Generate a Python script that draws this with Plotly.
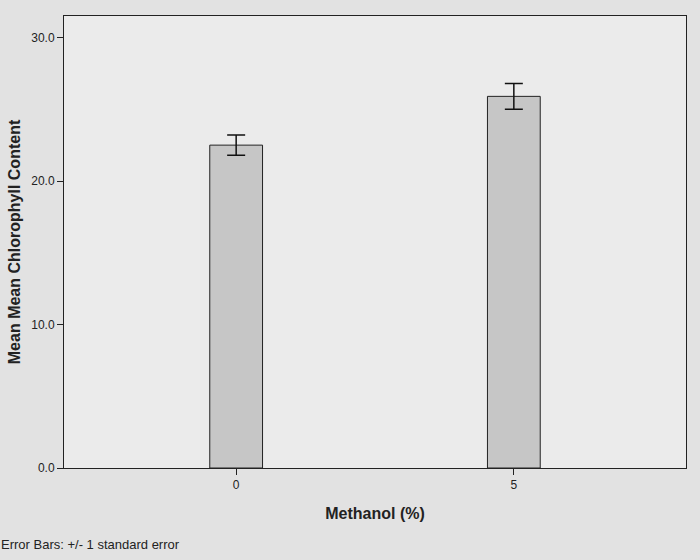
import plotly.graph_objects as go

categories = ["0", "5"]
means = [22.5, 25.9]
std_errors = [0.7, 0.9]
y_ticks = [0, 10, 20, 30]
y_tick_labels = ["0.0", "10.0", "20.0", "30.0"]

fig = go.Figure()
fig.add_trace(go.Bar(
    x=categories, y=means, width=0.19,
    marker=dict(color="#c6c6c6", line=dict(color="#222222", width=1)),
    error_y=dict(type="data", array=std_errors, visible=True, color="#111111", thickness=1.5, width=9),
))

fig.update_layout(
    width=700, height=560,
    margin=dict(l=64, r=14, t=16, b=92),
    paper_bgcolor="#e2e2e2",
    plot_bgcolor="#ebebeb",
    font=dict(family="Liberation Sans, Arial, sans-serif", color="#222222", size=12),
    showlegend=False,
    xaxis=dict(
        type="category", range=[-0.62, 1.62],
        showline=True, linecolor="#222222", linewidth=1, mirror=True,
        ticks="outside", ticklen=6, tickcolor="#222222",
        showgrid=False,
        title=dict(text="<b>Methanol (%)</b>", font=dict(size=16), standoff=16),
    ),
    yaxis=dict(
        range=[0, 31.5],
        tickvals=y_ticks, ticktext=y_tick_labels,
        showline=True, linecolor="#222222", linewidth=1, mirror=True,
        ticks="outside", ticklen=6, tickcolor="#222222",
        showgrid=False, zeroline=False,
        title=dict(text="<b>Mean Mean Chlorophyll Content</b>", font=dict(size=16), standoff=6),
    ),
    annotations=[dict(
        text="Error Bars: +/- 1 standard error", xref="paper", yref="paper",
        x=-0.104, y=-0.17, xanchor="left", yanchor="middle", showarrow=False,
        font=dict(size=13, color="#222222"),
    )],
)

fig.write_html("out.html", config={"displayModeBar": False},
               post_script="document.body.style.margin='0px';")
